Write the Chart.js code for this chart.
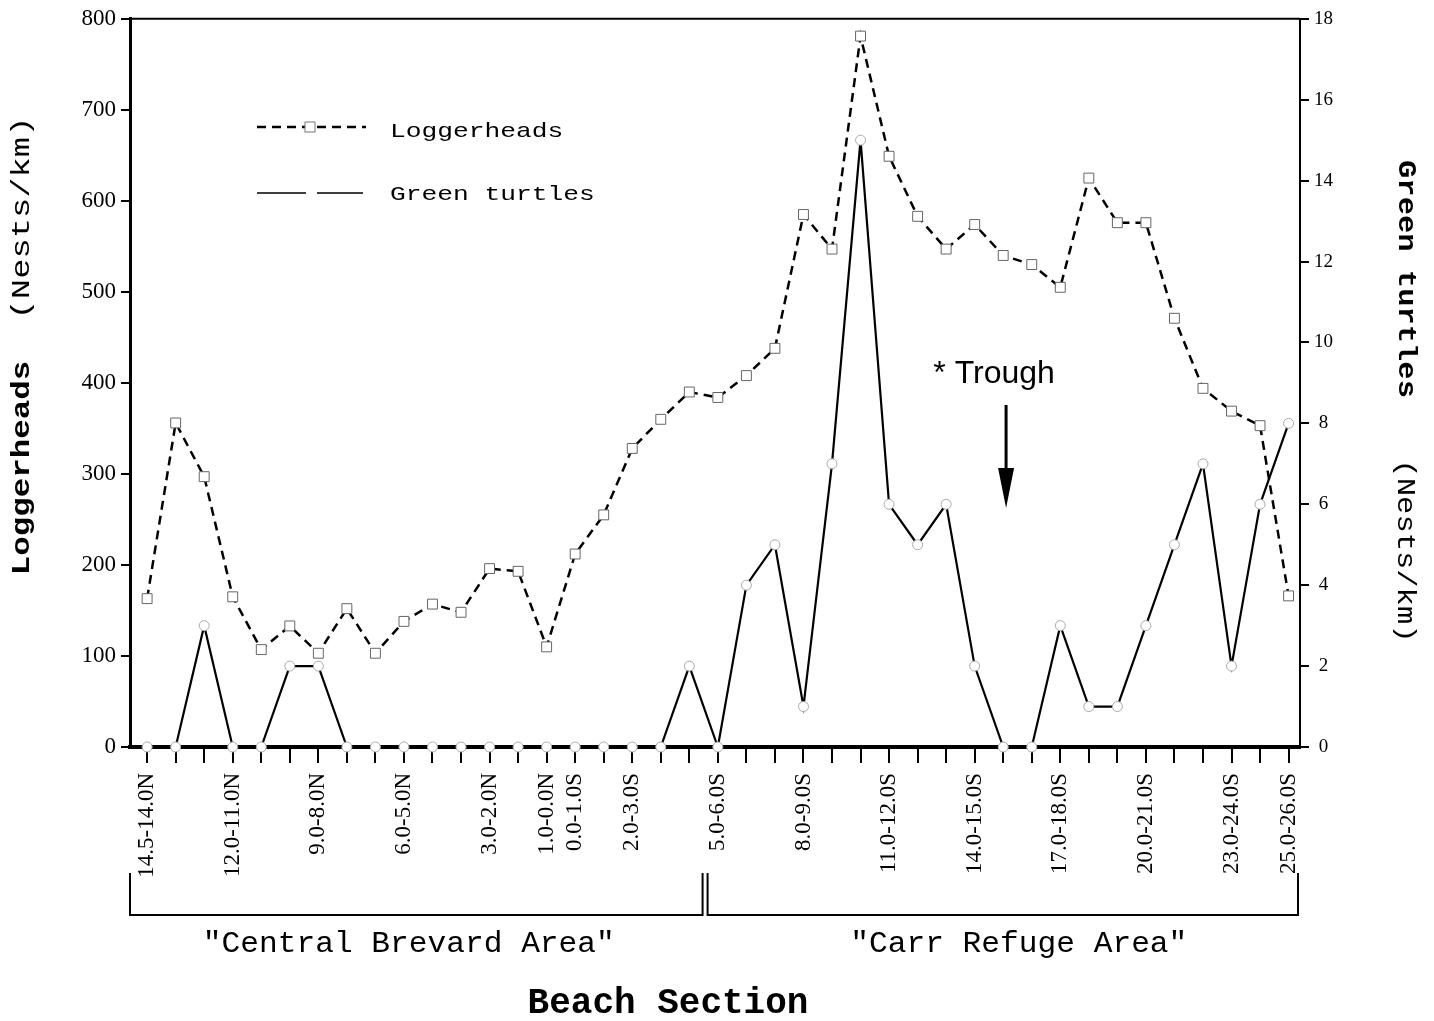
<!DOCTYPE html>
<html>
<head>
<meta charset="utf-8">
<script src="https://cdn.jsdelivr.net/npm/chart.js@4.4.0/dist/chart.umd.min.js"></script>
<style>
  html, body { margin: 0; padding: 0; background: #fff; }
  #wrap { width: 1434px; height: 1021px; }
</style>
</head>
<body>
<div id="wrap"><canvas id="chart" width="1434" height="1021"></canvas></div>
<script>
// ── DATA ─────────────────────────────────────────────────────────
const sections = [
  '14.5-14.0N', '14.0-13.0N', '13.0-12.0N', '12.0-11.0N', '11.0-10.0N', '10.0-9.0N',
  '9.0-8.0N', '8.0-7.0N', '7.0-6.0N', '6.0-5.0N', '5.0-4.0N', '4.0-3.0N', '3.0-2.0N',
  '2.0-1.0N', '1.0-0.0N', '0.0-1.0S', '1.0-2.0S', '2.0-3.0S', '3.0-4.0S', '4.0-5.0S',
  '5.0-6.0S', '6.0-7.0S', '7.0-8.0S', '8.0-9.0S', '9.0-10.0S', '10.0-11.0S', '11.0-12.0S',
  '12.0-13.0S', '13.0-14.0S', '14.0-15.0S', '15.0-16.0S', '16.0-17.0S', '17.0-18.0S',
  '18.0-19.0S', '19.0-20.0S', '20.0-21.0S', '21.0-22.0S', '22.0-23.0S', '23.0-24.0S',
  '24.0-25.0S', '25.0-26.0S'
];
const shownSections = [
  '14.5-14.0N', '12.0-11.0N', '9.0-8.0N', '6.0-5.0N', '3.0-2.0N', '1.0-0.0N', '0.0-1.0S',
  '2.0-3.0S', '5.0-6.0S', '8.0-9.0S', '11.0-12.0S', '14.0-15.0S', '17.0-18.0S',
  '20.0-21.0S', '23.0-24.0S', '25.0-26.0S'
];
const loggerheads = [
  163, 356, 297, 165, 107, 133, 103, 152, 103, 138, 157, 148, 196, 193, 110, 212, 255,
  328, 360, 390, 384, 408, 438, 585, 547, 781, 649, 583, 547, 574, 540, 530, 505, 625,
  576, 576, 471, 394, 369, 353, 166
];
const greenTurtles = [
  0, 0, 3, 0, 0, 2, 2, 0, 0, 0, 0, 0, 0, 0, 0, 0, 0, 0, 0, 2, 0, 4, 5, 1, 7, 15, 6, 5,
  6, 2, 0, 0, 3, 1, 1, 3, 5, 7, 2, 6, 8
];
const loggerheadRange = [0, 800, 100];
const greenRange = [0, 18, 2];
const areaNames = ['"Central Brevard Area"', '"Carr Refuge Area"'];
const areaSplit = 19.5;     // boundary between the two areas (section index)
const troughAt = 30.1;      // section index the trough arrow points at

// ── HELPERS ──────────────────────────────────────────────────────
function stretchText(ctx, text, x, y, font, sx, rot, align) {
  ctx.save();
  ctx.translate(x, y);
  if (rot) ctx.rotate(rot);
  ctx.scale(sx, 1);
  ctx.font = font;
  ctx.fillStyle = '#000';
  ctx.textAlign = align || 'center';
  ctx.textBaseline = 'middle';
  ctx.fillText(text, 0, 0);
  ctx.restore();
}

const MONO = '"Liberation Mono", "Courier New", monospace';
const SERIF = '"Liberation Serif", "Times New Roman", serif';

const decorations = {
  id: 'decorations',
  afterDraw(chart) {
    const { ctx, chartArea: a, scales } = chart;
    const xs = scales.x;
    ctx.save();

    // top frame line
    ctx.strokeStyle = '#000';
    ctx.lineWidth = 2;
    ctx.beginPath();
    ctx.moveTo(a.left, a.top);
    ctx.lineTo(a.right, a.top);
    ctx.stroke();

    // legend
    ctx.lineWidth = 2.5;
    ctx.setLineDash([9, 6]);
    ctx.beginPath();
    ctx.moveTo(257, 127); ctx.lineTo(366, 127);
    ctx.stroke();
    ctx.setLineDash([]);
    ctx.fillStyle = '#fff';
    ctx.strokeStyle = '#777';
    ctx.lineWidth = 1;
    ctx.fillRect(305, 122, 10, 10);
    ctx.strokeRect(305, 122, 10, 10);
    ctx.strokeStyle = '#000';
    ctx.lineWidth = 1.6;
    ctx.beginPath();
    ctx.moveTo(257, 193); ctx.lineTo(306, 193);
    ctx.moveTo(317, 193); ctx.lineTo(363, 193);
    ctx.stroke();
    stretchText(ctx, 'Loggerheads', 390, 131, '21px ' + MONO, 1.25, 0, 'left');
    stretchText(ctx, 'Green turtles', 390, 194, '21px ' + MONO, 1.25, 0, 'left');

    // trough annotation
    const tx = xs.getPixelForValue(troughAt);
    ctx.font = '32px "Liberation Sans", Arial, sans-serif';
    ctx.fillStyle = '#000';
    ctx.textAlign = 'center';
    ctx.textBaseline = 'alphabetic';
    ctx.fillText('* Trough', tx - 12, 383);
    ctx.lineWidth = 3;
    ctx.beginPath();
    ctx.moveTo(tx, 405); ctx.lineTo(tx, 472);
    ctx.stroke();
    ctx.beginPath();
    ctx.moveTo(tx - 8, 468); ctx.lineTo(tx + 8, 468); ctx.lineTo(tx, 508);
    ctx.closePath();
    ctx.fill();

    // area brackets
    const mid = xs.getPixelForValue(areaSplit);
    ctx.lineWidth = 2;
    ctx.beginPath();
    ctx.moveTo(a.left, 873); ctx.lineTo(a.left, 915); ctx.lineTo(mid - 1, 915); ctx.lineTo(mid - 1, 873);
    ctx.moveTo(mid + 4, 873); ctx.lineTo(mid + 4, 915); ctx.lineTo(a.right - 2, 915); ctx.lineTo(a.right - 2, 873);
    ctx.stroke();
    stretchText(ctx, areaNames[0], (a.left + mid) / 2 - 8, 944, '30px ' + MONO, 1.04, 0, 'center');
    stretchText(ctx, areaNames[1], (mid + a.right) / 2 + 17, 944, '30px ' + MONO, 1.04, 0, 'center');
    stretchText(ctx, 'Beach Section', 668, 1004, 'bold 36px ' + MONO, 1.0, 0, 'center');

    // axis titles
    stretchText(ctx, 'Loggerheads', 22, 468, 'bold 26px ' + MONO, 1.25, -Math.PI / 2, 'center');
    stretchText(ctx, '(Nests/km)', 22, 218, '26px ' + MONO, 1.3, -Math.PI / 2, 'center');
    stretchText(ctx, 'Green turtles', 1405, 279, 'bold 25px ' + MONO, 1.22, Math.PI / 2, 'center');
    stretchText(ctx, '(Nests/km)', 1405, 551, '25px ' + MONO, 1.22, Math.PI / 2, 'center');

    ctx.restore();
  }
};

// ── CHART ────────────────────────────────────────────────────────
new Chart(document.getElementById('chart'), {
  type: 'line',
  data: {
    datasets: [{
      label: 'Loggerheads',
      data: loggerheads.map((v, i) => ({ x: i, y: v })),
      yAxisID: 'y',
      borderColor: '#000',
      borderWidth: 2.5,
      borderDash: [9, 6],
      pointStyle: 'rect',
      pointRadius: 7,
      pointBackgroundColor: '#fff',
      pointBorderColor: '#666',
      pointBorderWidth: 1,
      tension: 0,
      clip: false,
    }, {
      label: 'Green turtles',
      data: greenTurtles.map((v, i) => ({ x: i, y: v })),
      yAxisID: 'y1',
      borderColor: '#000',
      borderWidth: 2.2,
      pointStyle: 'circle',
      pointRadius: 5,
      pointBackgroundColor: '#fff',
      pointBorderColor: '#aaa',
      pointBorderWidth: 1,
      tension: 0,
      clip: false,
    }]
  },
  options: {
    responsive: false,
    animation: false,
    layout: { padding: { top: 14, left: 0, right: 0, bottom: 0 } },
    plugins: { legend: { display: false }, tooltip: { enabled: false } },
    scales: {
      x: {
        type: 'linear',
        min: -0.6,
        max: 40.4,
        afterBuildTicks: s => { s.ticks = sections.map((_, i) => ({ value: i })); },
        afterFit: s => { s.height = 274; },
        ticks: {
          autoSkip: false,
          minRotation: 90,
          maxRotation: 90,
          padding: 10,
          color: '#000',
          font: { family: SERIF, size: 23 },
          callback: (v, i) => shownSections.includes(sections[i]) ? sections[i] : '',
        },
        grid: { drawOnChartArea: false, drawTicks: true, tickLength: 16, color: '#000', lineWidth: 2 },
        border: { color: '#000', width: 4 },
      },
      y: {
        position: 'left',
        min: loggerheadRange[0],
        max: loggerheadRange[1],
        afterFit: s => { s.width = 130; },
        ticks: { stepSize: loggerheadRange[2], padding: 5, color: '#000', font: { family: SERIF, size: 23 } },
        grid: { drawOnChartArea: false, tickLength: 9, color: '#000', lineWidth: 2 },
        border: { color: '#000', width: 3 },
      },
      y1: {
        position: 'right',
        min: greenRange[0],
        max: greenRange[1],
        afterFit: s => { s.width = 134; },
        ticks: { stepSize: greenRange[2], padding: 5, crossAlign: 'center', color: '#000', font: { family: SERIF, size: 19 } },
        grid: { drawOnChartArea: false, tickLength: 9, color: '#000', lineWidth: 2 },
        border: { color: '#000', width: 2 },
      },
    }
  },
  plugins: [decorations]
});
</script>
</body>
</html>
